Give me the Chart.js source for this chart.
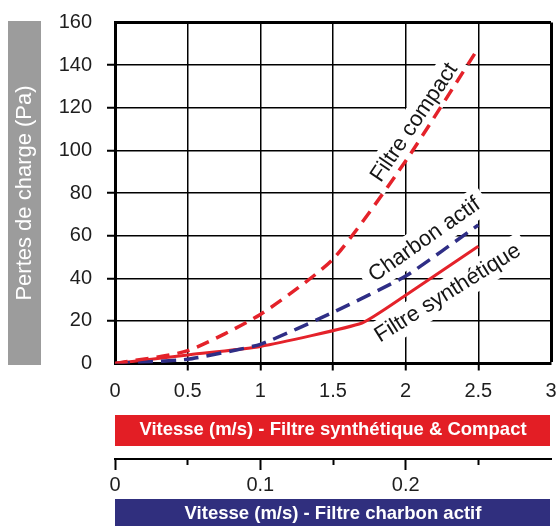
<!DOCTYPE html>
<html><head><meta charset="utf-8">
<script src="https://cdn.jsdelivr.net/npm/chart.js@4.4.1/dist/chart.umd.min.js"></script>
<style>html,body{margin:0;padding:0;background:#fff;}#wrap{position:relative;width:556px;height:526px;}</style>
</head><body><div id="wrap"><canvas id="c" width="556" height="526"></canvas></div>
<script>
// ---- data ----
const compactSpeed = [0, 0.5, 1, 1.5, 2, 2.5];          // m/s, main axis
const compactLoss  = [0, 6, 23, 49, 95, 148];            // Pa
const synthSpeed   = [0, 0.5, 1, 1.7, 2, 2.5];           // m/s, main axis
const synthLoss    = [0, 4, 8, 19, 32, 55];              // Pa
const charbonSpeed = [0, 0.05, 0.1, 0.15, 0.2, 0.25];    // m/s, charbon axis
const charbonLoss  = [0, 2, 9, 24, 41, 65];              // Pa
const seriesNames  = ['Filtre compact', 'Charbon actif', 'Filtre synthétique'];
const yTitle = 'Pertes de charge (Pa)';
const xTitleMain = 'Vitesse (m/s) - Filtre synthétique & Compact';
const xTitleCharbon = 'Vitesse (m/s) - Filtre charbon actif';

// ---- presentation ----
const FONT = "'Liberation Sans', Arial, Helvetica, sans-serif";
const RED = '#E4222A', BLUE = '#2F2E86', BARRED = '#E31E25', BARBLUE = '#302F7E', GREY = '#9C9C9C';
const inlineLabels = [ // position in main-axis data units, angle in degrees
  {name: seriesNames[0], x: 2.06, y: 113, angle: 56},
  {name: seriesNames[1], x: 2.13, y: 58, angle: 35},
  {name: seriesNames[2], x: 2.29, y: 33, angle: 32}
];

const pts = (xs, ys) => xs.map((x, i) => ({x, y: ys[i]}));

const deco = {
  id: 'deco',
  beforeDraw(chart) {
    const {ctx, chartArea: a} = chart;
    ctx.save();
    ctx.fillStyle = GREY;
    ctx.fillRect(8, a.top - 1.5, 33, a.bottom - a.top + 3);
    ctx.fillStyle = BARRED;
    ctx.fillRect(a.left, 415, a.right - a.left - 1, 31);
    ctx.fillStyle = BARBLUE;
    ctx.fillRect(a.left, 499, a.right - a.left - 1, 30);
    ctx.restore();
  },
  beforeDatasetsDraw(chart) {
    const {ctx, scales} = chart;
    ctx.save();
    ctx.font = '22px ' + FONT;
    inlineLabels.forEach(l => {
      const px = scales.x.getPixelForValue(l.x), py = scales.y.getPixelForValue(l.y);
      const w = ctx.measureText(l.name).width;
      ctx.save();
      ctx.translate(px, py);
      ctx.rotate(-l.angle * Math.PI / 180);
      ctx.fillStyle = '#fff';
      ctx.fillRect(-w / 2 - 8, -15, w + 16, 30);
      ctx.restore();
    });
    ctx.restore();
  },
  afterDatasetsDraw(chart) {
    const {ctx, scales} = chart;
    ctx.save();
    ctx.font = '22px ' + FONT;
    ctx.fillStyle = '#151515';
    ctx.textAlign = 'center';
    ctx.textBaseline = 'middle';
    inlineLabels.forEach(l => {
      const px = scales.x.getPixelForValue(l.x), py = scales.y.getPixelForValue(l.y);
      ctx.save();
      ctx.translate(px, py);
      ctx.rotate(-l.angle * Math.PI / 180);
      ctx.fillText(l.name, 0, 0);
      ctx.restore();
    });
    ctx.restore();
  }
};

new Chart(document.getElementById('c'), {
  type: 'line',
  data: {
    datasets: [
      {label: seriesNames[0], data: pts(compactSpeed, compactLoss), xAxisID: 'x', yAxisID: 'y',
       borderColor: RED, borderWidth: 3.5, borderDash: [13, 8], tension: 0.2, pointRadius: 0, fill: false},
      {label: seriesNames[1], data: pts(charbonSpeed, charbonLoss), xAxisID: 'x2', yAxisID: 'y',
       borderColor: BLUE, borderWidth: 3.5, borderDash: [15, 8], tension: 0.15, pointRadius: 0, fill: false},
      {label: seriesNames[2], data: pts(synthSpeed, synthLoss), xAxisID: 'x', yAxisID: 'y',
       borderColor: RED, borderWidth: 3, tension: 0.15, pointRadius: 0, fill: false}
    ]
  },
  options: {
    responsive: false, animation: false,
    layout: {padding: {top: 22.5, right: 5, left: 0, bottom: 0}},
    plugins: {legend: {display: false}, tooltip: {enabled: false}},
    scales: {
      x: {
        type: 'linear', position: 'bottom', min: 0, max: 3,
        ticks: {stepSize: 0.5, autoSkip: false, maxRotation: 0, padding: 9, color: '#1e1e1e',
                font: {family: FONT, size: 20}, callback: v => String(v)},
        grid: {color: '#000', lineWidth: c => (c.tick && c.tick.value === 3) ? 3 : 1.5, tickLength: 7, tickWidth: 2,
               tickColor: c => (c.tick && (c.tick.value === 0 || c.tick.value === 3)) ? 'rgba(0,0,0,0)' : '#000'},
        border: {color: '#000', width: 3},
        title: {display: true, text: xTitleMain, color: '#fff', font: {family: FONT, size: 18.5, weight: 'bold'},
                padding: {top: 0, bottom: 18}},
        afterFit: s => { s.height = 95.5; s.paddingLeft = 0; s.paddingRight = 0; }
      },
      x2: {
        type: 'linear', position: 'bottom', min: 0, max: 0.3,
        ticks: {stepSize: 0.05, autoSkip: false, maxRotation: 0, padding: 3, color: '#1e1e1e',
                font: {family: FONT, size: 20},
                callback: v => { const k = Math.round(v * 100); return (k % 10 === 0 && k < 30) ? String(k / 100) : ''; }},
        grid: {drawOnChartArea: false, tickLength: 11, tickWidth: 2,
               tickBorderDash: c => { const k = Math.round(c.tick.value * 100); return k % 10 === 0 ? [] : [5, 40]; },
               tickColor: c => Math.round(c.tick.value * 100) >= 30 ? 'rgba(0,0,0,0)' : '#000'},
        border: {color: '#000', width: 2},
        title: {display: true, text: xTitleCharbon, color: '#fff', font: {family: FONT, size: 18.5, weight: 'bold'},
                padding: {top: 0, bottom: 1}},
        afterFit: s => { s.height = 67; s.paddingLeft = 0; s.paddingRight = 0; }
      },
      y: {
        min: 0, max: 160,
        ticks: {stepSize: 20, padding: 15, color: '#1e1e1e', font: {family: FONT, size: 20}},
        grid: {color: '#000', lineWidth: c => (c.tick && c.tick.value === 160) ? 3 : 1.5, tickLength: 8, tickWidth: 2,
               tickColor: c => (c.tick && (c.tick.value === 0 || c.tick.value === 160)) ? 'rgba(0,0,0,0)' : '#000'},
        border: {color: '#000', width: 3},
        title: {display: true, text: yTitle, color: '#fff', font: {family: FONT, size: 22}, padding: {top: 12, bottom: 0}},
        afterFit: s => { s.width = 115; s.paddingTop = 0; s.paddingBottom = 0; }
      }
    }
  },
  plugins: [deco]
});
</script></body></html>
